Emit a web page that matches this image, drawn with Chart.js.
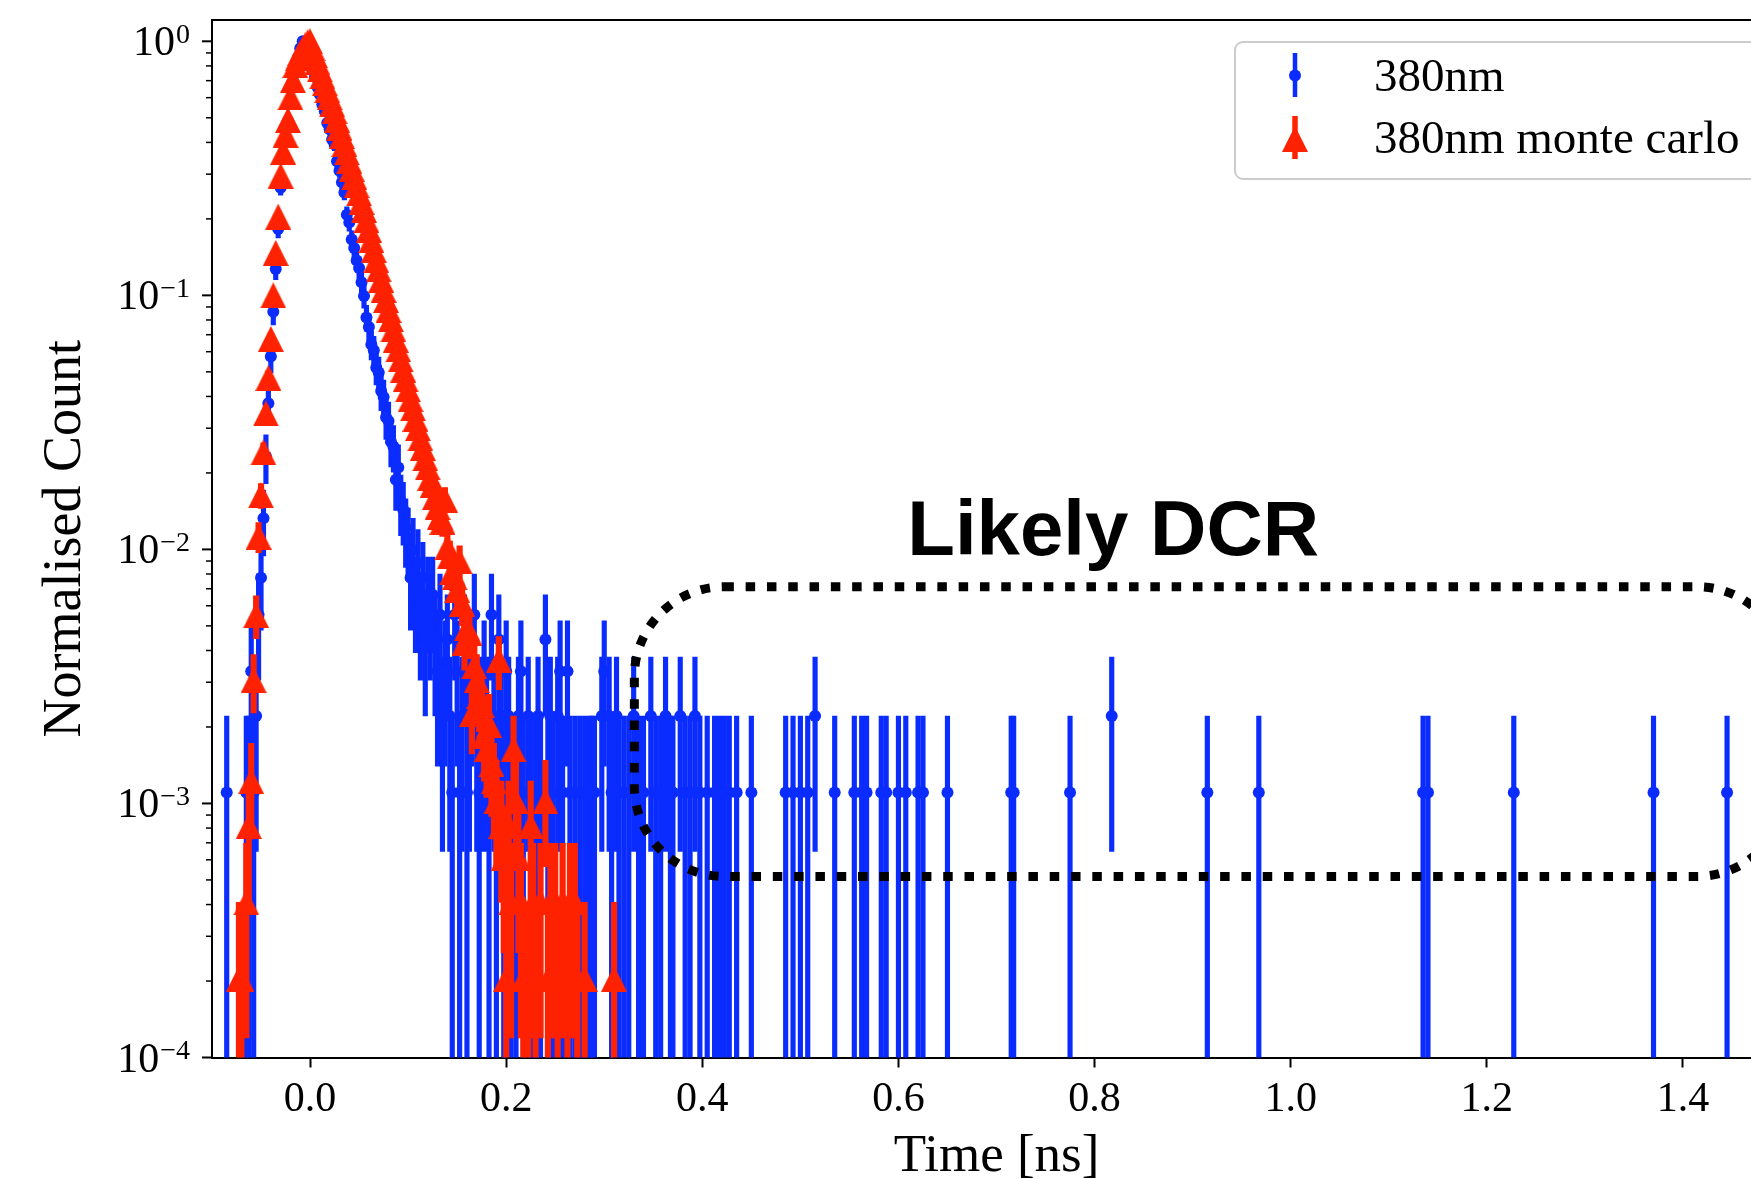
<!DOCTYPE html>
<html>
<head>
<meta charset="utf-8">
<title>380nm timing histogram</title>
<script src="https://cdn.jsdelivr.net/npm/chart.js@4.4.1/dist/chart.umd.min.js"></script>
<style>
  html, body { margin: 0; padding: 0; background: #fff; overflow: hidden; }
  #wrap { width: 1800px; height: 1179px; }
</style>
</head>
<body>
<div id="wrap"><canvas id="timingChart" width="1800" height="1179"></canvas></div>
<script>
// 380nm measured histogram (counts per bin, peak normalised to 1)
var blueTime = [
  -0.085, -0.065, -0.0625, -0.06, -0.0575, -0.055, -0.0525, -0.05, -0.0475, -0.045,
  -0.0425, -0.04, -0.0375, -0.035, -0.0325, -0.03, -0.0275, -0.025, -0.0225, -0.02,
  -0.0175, -0.015, -0.0125, -0.01, -0.0075, -0.005, -0.0025, 0, 0.0025, 0.005,
  0.0075, 0.01, 0.0125, 0.015, 0.0175, 0.02, 0.0225, 0.025, 0.0275, 0.03,
  0.0325, 0.035, 0.0375, 0.04, 0.0425, 0.045, 0.0475, 0.05, 0.0525, 0.055,
  0.0575, 0.06, 0.0625, 0.065, 0.0675, 0.07, 0.0725, 0.075, 0.0775, 0.08,
  0.0825, 0.085, 0.0875, 0.09, 0.0925, 0.095, 0.0975, 0.1, 0.1025, 0.105,
  0.1075, 0.11, 0.1125, 0.115, 0.1175, 0.12, 0.1225, 0.125, 0.1275, 0.13,
  0.1325, 0.135, 0.1375, 0.14, 0.1425, 0.145, 0.1475, 0.15, 0.1525, 0.155,
  0.1575, 0.16, 0.1625, 0.165, 0.1675, 0.17, 0.1725, 0.175, 0.1775, 0.18,
  0.1825, 0.185, 0.1875, 0.19, 0.1925, 0.195, 0.1975, 0.2, 0.2025, 0.205,
  0.21, 0.2125, 0.215, 0.2175, 0.2225, 0.225, 0.23, 0.2325, 0.235, 0.24,
  0.2425, 0.245, 0.2475, 0.2525, 0.255, 0.2575, 0.2625, 0.265, 0.27, 0.275,
  0.28, 0.285, 0.2875, 0.29, 0.2975, 0.3, 0.305, 0.3075, 0.3125, 0.315,
  0.32, 0.325, 0.33, 0.335, 0.34, 0.3475, 0.3525, 0.3575, 0.3625, 0.3675,
  0.37, 0.3775, 0.3825, 0.3875, 0.3925, 0.3975, 0.405, 0.4125, 0.4175, 0.4225,
  0.4275, 0.435, 0.45, 0.485, 0.4925, 0.5, 0.5075, 0.515, 0.535, 0.555,
  0.5625, 0.5675, 0.5825, 0.5875, 0.6, 0.6075, 0.62, 0.625, 0.65, 0.715,
  0.7175, 0.775, 0.8175, 0.915, 0.9675, 1.135, 1.14, 1.2275, 1.37, 1.445
];
var blueCount = [
  1, 1, 1, 3, 1, 2, 5, 7, 12, 21,
  34, 52, 78, 115, 165, 240, 315, 375, 440, 525,
  615, 705, 780, 850, 905, 862, 812, 765, 700, 655,
  598, 560, 512, 480, 432, 408, 372, 355, 305, 280,
  252, 230, 188, 175, 150, 139, 124, 116, 102, 90,
  74, 68, 58, 55, 47, 45, 38, 36, 30, 29,
  24, 23, 17, 19, 14, 13, 11, 10, 7, 9,
  6, 8, 5, 7, 4, 6, 5, 6, 4, 3,
  5, 2, 3, 4, 2, 1, 5, 3, 1, 2,
  4, 1, 2, 3, 5, 2, 1, 2, 3, 2,
  1, 5, 2, 1, 4, 2, 1, 3, 2, 1,
  1, 2, 3, 1, 2, 1, 1, 2, 1, 4,
  1, 2, 1, 2, 3, 1, 3, 1, 1, 1,
  1, 1, 1, 1, 2, 3, 2, 1, 2, 1,
  1, 1, 2, 1, 1, 2, 1, 1, 2, 1,
  1, 2, 1, 1, 2, 1, 1, 1, 1, 1,
  1, 1, 1, 1, 1, 1, 1, 2, 1, 1,
  1, 1, 1, 1, 1, 1, 1, 1, 1, 1,
  1, 1, 2, 1, 1, 1, 1, 1, 1, 1
];
var bluePeak = 905;

// 380nm monte carlo histogram
var redTime = [
  -0.0725, -0.07, -0.065, -0.0625, -0.06, -0.0575, -0.055, -0.0525, -0.05, -0.0475,
  -0.045, -0.0425, -0.04, -0.0375, -0.035, -0.0325, -0.03, -0.0275, -0.025, -0.0225,
  -0.02, -0.0175, -0.015, -0.0125, -0.01, -0.0075, -0.005, -0.0025, 0, 0.0025,
  0.005, 0.0075, 0.01, 0.0125, 0.015, 0.0175, 0.02, 0.0225, 0.025, 0.0275,
  0.03, 0.0325, 0.035, 0.0375, 0.04, 0.0425, 0.045, 0.0475, 0.05, 0.0525,
  0.055, 0.0575, 0.06, 0.0625, 0.065, 0.0675, 0.07, 0.0725, 0.075, 0.0775,
  0.08, 0.0825, 0.085, 0.0875, 0.09, 0.0925, 0.095, 0.0975, 0.1, 0.1025,
  0.105, 0.1075, 0.11, 0.1125, 0.115, 0.1175, 0.12, 0.1225, 0.125, 0.1275,
  0.13, 0.1325, 0.135, 0.1375, 0.14, 0.1425, 0.145, 0.1475, 0.15, 0.1525,
  0.155, 0.1575, 0.16, 0.1625, 0.165, 0.1675, 0.17, 0.1725, 0.175, 0.1775,
  0.18, 0.1825, 0.185, 0.1875, 0.19, 0.1925, 0.195, 0.1975, 0.2, 0.2025,
  0.205, 0.2075, 0.21, 0.2125, 0.215, 0.2175, 0.2225, 0.225, 0.2275, 0.23,
  0.235, 0.24, 0.2425, 0.245, 0.25, 0.2525, 0.2575, 0.2625, 0.265, 0.27,
  0.2725, 0.28, 0.31
];
var redCount = [
  1, 1, 2, 4, 6, 15, 27, 55, 80, 118,
  168, 232, 330, 490, 720, 1000, 1450, 1800, 2100, 2400,
  2950, 3450, 3950, 4200, 4400, 4580, 4720, 4850, 4900, 4600,
  4320, 4050, 3800, 3570, 3350, 3145, 2950, 2770, 2600, 2410,
  2240, 2080, 1930, 1790, 1660, 1545, 1435, 1330, 1235, 1145,
  1065, 970, 890, 810, 740, 675, 620, 565, 515, 470,
  430, 395, 360, 328, 300, 274, 250, 229, 209, 191,
  176, 160, 147, 134, 123, 112, 103, 94, 88, 79,
  72, 66, 63, 77, 50, 46, 40, 38, 34, 44,
  30, 21, 24, 23, 11, 17, 15, 13, 12, 9,
  8, 10, 7, 6, 5, 18, 4, 3, 1, 4,
  2, 8, 5, 3, 2, 1, 1, 4, 2, 1,
  2, 5, 1, 2, 2, 1, 2, 1, 2, 2,
  1, 1, 1
];
var redPeak = 4900;

var seriesNames = ['380nm', '380nm monte carlo'];
var xTicks = [0.0, 0.2, 0.4, 0.6, 0.8, 1.0, 1.2, 1.4];
var yDecades = [-4, -3, -2, -1, 0];

// hand-drawn "Likely DCR" region (data coords)
var dcrRegion = { x0: 0.3307, x1: 1.506, yTop: 7.13e-3, yBottom: 5.16e-4, label: 'Likely DCR', labelX: 0.609, labelY: 0.0095 };

var BLUE = '#0a2cff';
var RED = '#ff2200';
var SERIF = '"Liberation Serif", "Times New Roman", serif';

function toPoints(times, counts, peak) {
  var out = [];
  for (var i = 0; i < times.length; i++) {
    if (counts[i] > 0) out.push({ x: times[i], y: counts[i] / peak });
  }
  return out;
}

// poisson error bars as floating bars [low, high]; a zero low end is kept
// just above 0 (log axis) and clipped at the bottom of the plot
function toErrorBars(times, counts, peak) {
  var out = [];
  for (var i = 0; i < times.length; i++) {
    if (counts[i] <= 0) continue;
    var v = counts[i] / peak;
    var e = Math.sqrt(counts[i]) / peak;
    out.push({ x: times[i], y: [Math.max(v - e, 1e-9), v + e] });
  }
  return out;
}

function makeTriangle(size, color) {
  var c = document.createElement('canvas');
  c.width = size; c.height = size;
  var g = c.getContext('2d');
  g.fillStyle = color;
  g.beginPath();
  g.moveTo(size / 2, 0);
  g.lineTo(size, size);
  g.lineTo(0, size);
  g.closePath();
  g.fill();
  return c;
}
var triangle = makeTriangle(26, RED);

function roundRectPath(ctx, x, y, w, h, r) {
  ctx.beginPath();
  ctx.moveTo(x + r, y);
  ctx.lineTo(x + w - r, y);
  ctx.arcTo(x + w, y, x + w, y + r, r);
  ctx.lineTo(x + w, y + h - r);
  ctx.arcTo(x + w, y + h, x + w - r, y + h, r);
  ctx.lineTo(x + r, y + h);
  ctx.arcTo(x, y + h, x, y + h - r, r);
  ctx.lineTo(x, y + r);
  ctx.arcTo(x, y, x + r, y, r);
  ctx.closePath();
}

var overlay = {
  id: 'overlay',
  afterDatasetsDraw: function (chart) {
    var ctx = chart.ctx, a = chart.chartArea, xs = chart.scales.x, ys = chart.scales.y;
    ctx.save();

    // top spine
    ctx.strokeStyle = '#000';
    ctx.lineWidth = 2;
    ctx.beginPath(); ctx.moveTo(a.left, a.top); ctx.lineTo(a.right, a.top); ctx.stroke();

    // log ticks with 10^k labels
    ctx.fillStyle = '#000';
    ctx.textBaseline = 'middle';
    ctx.textAlign = 'right';
    yDecades.forEach(function (k) {
      var p = ys.getPixelForValue(Math.pow(10, k));
      ctx.lineWidth = 2;
      ctx.beginPath(); ctx.moveTo(a.left - 10, p); ctx.lineTo(a.left, p); ctx.stroke();
      if (k < 0) {
        ctx.lineWidth = 1.5;
        for (var m = 2; m <= 9; m++) {
          var q = ys.getPixelForValue(m * Math.pow(10, k));
          ctx.beginPath(); ctx.moveTo(a.left - 6, q); ctx.lineTo(a.left, q); ctx.stroke();
        }
      }
      var exp = k < 0 ? '\u2212' + (-k) : String(k);
      ctx.font = '28px ' + SERIF;
      var ew = ctx.measureText(exp).width;
      ctx.fillText(exp, 190, p - 6);
      ctx.font = '42px ' + SERIF;
      ctx.fillText('10', 190 - ew - 1, p + 3);
    });

    // dotted region + label
    var bx0 = xs.getPixelForValue(dcrRegion.x0), bx1 = xs.getPixelForValue(dcrRegion.x1);
    var by0 = ys.getPixelForValue(dcrRegion.yTop), by1 = ys.getPixelForValue(dcrRegion.yBottom);
    ctx.setLineDash([9.5, 11.8]);
    ctx.lineWidth = 9;
    roundRectPath(ctx, bx0, by0, bx1 - bx0, by1 - by0, 90);
    ctx.stroke();
    ctx.setLineDash([]);
    ctx.font = 'bold 78px "Liberation Sans", Arial, sans-serif';
    ctx.textAlign = 'left';
    ctx.textBaseline = 'alphabetic';
    ctx.fillText(dcrRegion.label, xs.getPixelForValue(dcrRegion.labelX), ys.getPixelForValue(dcrRegion.labelY));

    // legend
    roundRectPath(ctx, 1235, 42, 532, 137, 8);
    ctx.fillStyle = '#fff';
    ctx.fill();
    ctx.strokeStyle = '#cccccc';
    ctx.lineWidth = 2;
    ctx.stroke();

    ctx.fillStyle = BLUE;
    ctx.fillRect(1295 - 2.25, 53, 4.5, 44);
    ctx.beginPath(); ctx.arc(1295, 75.5, 6, 0, Math.PI * 2); ctx.fill();
    ctx.fillStyle = RED;
    ctx.fillRect(1295 - 2.75, 116, 5.5, 43);
    ctx.drawImage(triangle, 1295 - 13, 139 - 13);

    ctx.fillStyle = '#000';
    ctx.font = '47px ' + SERIF;
    ctx.textBaseline = 'middle';
    ctx.fillText(seriesNames[0], 1374, 78.5);
    ctx.fillText(seriesNames[1], 1374, 141);
    ctx.restore();
  }
};

var ctx = document.getElementById('timingChart').getContext('2d');
var timingChart = new Chart(ctx, {
  type: 'scatter',
  data: {
    datasets: [{
      type: 'bar',
      label: seriesNames[0] + ' err',
      data: toErrorBars(blueTime, blueCount, bluePeak),
      backgroundColor: BLUE,
      borderWidth: 0,
      barThickness: 4.5,
      grouped: false,
      clip: 0,
      order: 4
    }, {
      type: 'scatter',
      label: seriesNames[0],
      data: toPoints(blueTime, blueCount, bluePeak),
      pointStyle: 'circle',
      pointRadius: 6,
      pointBackgroundColor: BLUE,
      pointBorderWidth: 0,
      clip: false,
      order: 3
    }, {
      type: 'bar',
      label: seriesNames[1] + ' err',
      data: toErrorBars(redTime, redCount, redPeak),
      backgroundColor: RED,
      borderWidth: 0,
      barThickness: 5.5,
      grouped: false,
      clip: 0,
      order: 2
    }, {
      type: 'scatter',
      label: seriesNames[1],
      data: toPoints(redTime, redCount, redPeak),
      pointStyle: triangle,
      pointRadius: 13,
      pointBorderWidth: 0,
      clip: false,
      order: 1
    }]
  },
  options: {
    responsive: false,
    animation: false,
    devicePixelRatio: 1,
    events: [],
    layout: { padding: { top: 20, right: 19, left: 0, bottom: 0 } },
    plugins: {
      legend: { display: false },
      tooltip: { enabled: false }
    },
    scales: {
      x: {
        type: 'linear',
        position: 'bottom',
        min: -0.1,
        max: 1.5,
        offset: false,
        afterBuildTicks: function (s) { s.ticks = xTicks.map(function (v) { return { value: v }; }); },
        afterFit: function (s) { s.height = 121.5; },
        ticks: {
          autoSkip: false,
          maxRotation: 0,
          padding: 7.5,
          color: '#000',
          font: { family: SERIF, size: 42 },
          callback: function (v) { return Number(v).toFixed(1); }
        },
        grid: { display: true, offset: false, drawOnChartArea: false, drawTicks: true, tickLength: 10, tickWidth: 2, tickColor: '#000' },
        border: { display: true, color: '#000', width: 2 },
        title: { display: true, text: 'Time [ns]', color: '#000', font: { family: SERIF, size: 53, lineHeight: 0.81 }, padding: { top: 0, bottom: 0 } }
      },
      y: {
        type: 'logarithmic',
        position: 'left',
        min: 1e-4,
        max: 1.213,
        afterFit: function (s) { s.width = 212; },
        ticks: { display: false },
        grid: { display: false, offset: false },
        border: { display: true, color: '#000', width: 2 },
        title: { display: true, text: 'Normalised Count', color: '#000', font: { family: SERIF, size: 54, lineHeight: 1 }, padding: { top: 38.8, bottom: 0 } }
      }
    }
  },
  plugins: [overlay]
});
</script>
</body>
</html>
